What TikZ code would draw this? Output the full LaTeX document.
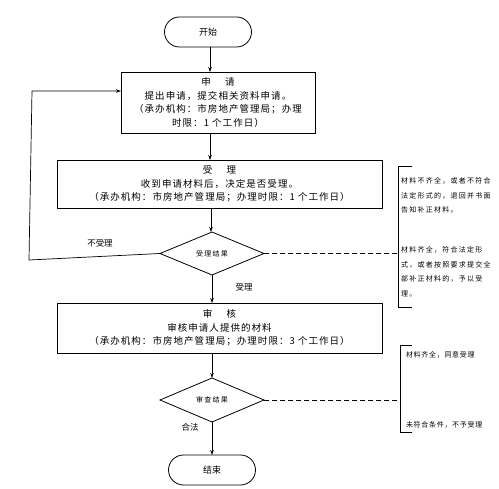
\documentclass[tikz,border=0pt]{standalone}
\usepackage{fontspec}
\setmainfont{Noto Sans CJK SC}
\newfontfamily\cjkbox[LetterSpace=11]{Noto Sans CJK SC}
\newfontfamily\cjksmall[LetterSpace=18]{Noto Sans CJK SC}
\newfontfamily\cjknote[LetterSpace=10]{Noto Sans CJK SC}
\usetikzlibrary{shapes.geometric,arrows.meta,calc}
\begin{document}
\begin{tikzpicture}[x=1pt,y=-1pt,
  every node/.style={inner sep=0pt, outer sep=0pt},
  stepbox/.style={draw, line width=0.8pt, font=\cjkbox\fontsize{9.5}{13.5}\selectfont, align=center},
  term/.style={draw, line width=0.8pt, rounded corners=15pt, minimum width=87pt, minimum height=30pt, font=\fontsize{9}{11}\selectfont},
  decide/.style={draw, line width=0.8pt, diamond, minimum width=104pt, minimum height=43pt, font=\cjksmall\fontsize{7}{8}\selectfont},
  note/.style={font=\cjksmall\fontsize{7}{14.5}\selectfont, align=left, anchor=north west},
  note2/.style={font=\cjknote\fontsize{7}{9}\selectfont, anchor=west},
  lbl/.style={font=\fontsize{8.5}{10}\selectfont},
  arr/.style={-{Stealth[length=5pt,width=3.5pt]}, line width=0.7pt},
  ln/.style={line width=0.8pt},
  dsh/.style={line width=0.7pt, dash pattern=on 5pt off 3pt}
]
\useasboundingbox (0,0) rectangle (499,489);

\node[term] (start) at (208,32) {开始};
\node[stepbox, minimum width=194pt, minimum height=61pt] (b1) at (218,102.5)
  {申\hspace{1.5em}请\\提出申请，提交相关资料申请。\\（承办机构：市房地产管理局；办理\\时限：1 个工作日）};
\node[stepbox, minimum width=325pt, minimum height=48pt] (b2) at (219.5,184)
  {受\hspace{1.5em}理\\收到申请材料后，决定是否受理。\\（承办机构：市房地产管理局；办理时限：1 个工作日）};
\node[decide] (d1) at (212,253.5) {受理结果};
\node[stepbox, minimum width=325pt, minimum height=50pt] (b3) at (219.5,328)
  {审\hspace{1.5em}核\\审核申请人提供的材料\\（承办机构：市房地产管理局；办理时限：3 个工作日）};
\node[decide, minimum height=44pt] (d2) at (212,400) {审查结果};
\node[term] (end) at (212,470) {结束};

% labels
\node[lbl] (l1) at (100,243) {不受理};
\node[lbl] (l2) at (244,287) {受理};
\node[lbl] (l3) at (190,427) {合法};

% main flow
\draw[arr] (start.south -| 210,0) -- (b1.north -| 210,0);
\draw[arr] (b1.south -| 210,0) -- (b2.north -| 210,0);
\draw[arr] (b2.south -| 211,0) -- (d1.north -| 211,0);
\draw[arr] (d1.south -| 212,0) -- (b3.north -| 212,0);
\draw[arr] (b3.south -| 212,0) -- (d2.north -| 212,0);
\draw[arr] (d2.south -| 212,0) -- (end.north -| 212,0);

% loop back
\coordinate (lb) at (29,260);
\coordinate (lt) at (32,91);
\draw[arr] (d1.west) -- (lb) -- (lt) -- (lt -| b1.west);

% bracket 1
\coordinate (br1t) at (398,166);
\coordinate (br1b) at (398,307);
\draw[ln] ($(br1t)+(14,0)$) -- (br1t) -- (br1b) -- ($(br1b)+(14,0)$);
\draw[dsh] (d1.east) -- (d1.east -| br1t);
\node[note] (n1) at (401,178) {材料不齐全，或者不符合\\法定形式的，退回并书面\\告知补正材料。};
\node[note] (n2) at (401,247) {材料齐全，符合法定形\\式，或者按照要求提交全\\部补正材料的，予以受\\理。};

% bracket 2
\coordinate (br2t) at (400,345);
\coordinate (br2b) at (400,432);
\draw[ln] ($(br2t)+(12,0)$) -- (br2t) -- (br2b) -- ($(br2b)+(12,0)$);
\draw[dsh] (d2.east) -- (d2.east -| br2t);
\node[note2] (n3) at (406,355) {材料齐全，同意受理};
\node[note2] (n4) at (406,425) {未符合条件，不予受理};
\end{tikzpicture}
\end{document}
